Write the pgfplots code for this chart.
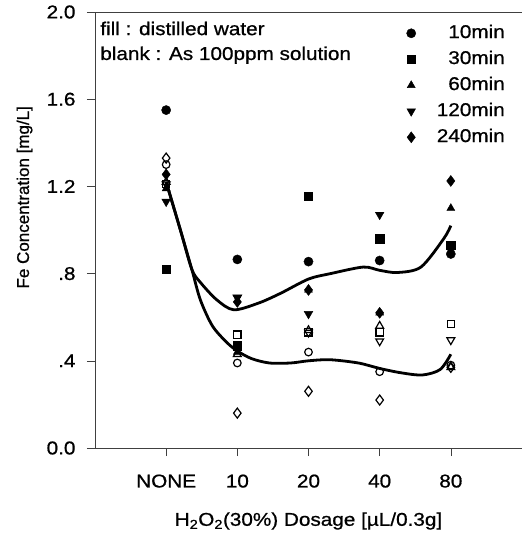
\documentclass[border=0pt]{standalone}
\usepackage{fontspec}
\setmainfont{Liberation Sans}[FakeStretch=1.12, FakeBold=0.8]
\newfontfamily\plainsans{Liberation Sans}[FakeBold=0.8]
\usepackage{pgfplots}
\pgfplotsset{compat=1.18}
\usepackage{pgfplotstable}

% fitted trend lines (x: dosage category index)
\pgfplotstableread{
x y
0.00 1.22
0.20 1.00
0.36 0.82
0.48 0.76
0.71 0.68
0.95 0.634
1.30 0.665
1.61 0.71
2.00 0.775
2.31 0.80
2.77 0.83
3.00 0.815
3.25 0.805
3.58 0.83
3.90 0.96
4.00 1.02
}\fitfill
\pgfplotstableread{
x y
0.00 1.22
0.20 1.00
0.36 0.82
0.48 0.68
0.65 0.56
0.85 0.485
1.00 0.445
1.20 0.41
1.45 0.39
1.75 0.39
2.00 0.40
2.30 0.405
2.70 0.39
3.00 0.365
3.30 0.345
3.60 0.335
3.85 0.36
4.00 0.43
}\fitblank

\newcommand{\txt}{\fontsize{18.5}{22}\selectfont}

\begin{document}
\begin{tikzpicture}
\begin{axis}[
  scale only axis, width=427pt, height=436pt,
  xmin=-1, xmax=5, ymin=0, ymax=2,
  axis lines=left,
  axis line style={-, black!75, line width=0.6pt},
  xtick={0,1,2,3,4}, xticklabels={NONE,10,20,40,80},
  ytick={0,0.4,0.8,1.2,1.6,2.0}, yticklabels={0.0,.4,.8,1.2,1.6,2.0},
  /pgf/number format/assume math mode=true,
  tick align=outside, major tick length=8pt,
  tick style={black!75, line width=0.6pt},
  tick label style={font=\txt},
  xticklabel style={yshift=-15pt},
  yticklabel style={xshift=-8pt},
  xlabel={H\textsubscript{2}O\textsubscript{2}(30\%) Dosage [µL/0.3g]},
  xlabel style={font=\txt, at={(axis description cs:0.5,0)}, anchor=center, yshift=-73pt},
  ylabel={Fe Concentration [mg/L]},
  ylabel style={font=\plainsans\fontsize{17}{20}\selectfont, at={(axis description cs:-0.165,0.575)}, anchor=center},
  clip=false,
  legend style={at={(rel axis cs:0.9625,0.974)}, anchor=north east, draw=none, fill=none,
    inner sep=0pt, font=\txt, row sep=6.5pt,
    nodes={inner sep=1pt, text height=13.5pt, text depth=4pt},
    /tikz/every odd column/.append style={column sep=20pt}},
  legend cell align=right,
]
\coordinate (o) at (rel axis cs:0,0);
\draw[black!75, line width=0.6pt] (rel axis cs:0,1) -- (rel axis cs:1,1);

% trend lines
\addplot[black, line width=2.8pt, smooth, forget plot] table {\fitfill};
\addplot[black, line width=2.8pt, smooth, forget plot] table {\fitblank};

% blank : As 100ppm solution (open marks)
\addplot[only marks, mark=o, mark size=3.8pt, mark options={line width=1.2pt, fill=none}, forget plot]
  coordinates {(0,1.30) (1,0.39) (2,0.44) (3,0.35) (4,0.38)};
\addplot[only marks, mark=square, mark size=3.6pt, mark options={line width=1.2pt, fill=none}, forget plot]
  coordinates {(0,1.21) (1,0.52) (2,0.53) (3,0.53) (4,0.57)};
\addplot[only marks, mark=triangle, mark size=4.5pt, mark options={line width=1.2pt, fill=none}, forget plot]
  coordinates {(0,1.22) (1,0.43) (2,0.54) (3,0.56) (4,0.37)};
\addplot[only marks, mark=triangle, mark size=4.5pt, mark options={line width=1.2pt, fill=none, rotate=180}, forget plot]
  coordinates {(0,1.21) (1,0.69) (2,0.53) (3,0.49) (4,0.495)};
\addplot[only marks, mark=diamond, mark size=5pt, mark options={line width=1.2pt, fill=none}, forget plot]
  coordinates {(0,1.33) (1,0.16) (2,0.26) (3,0.22) (4,0.37)};

% fill : distilled water (filled marks)
\addplot[only marks, mark=*, mark size=4.6pt, mark options={black}]
  coordinates {(0,1.55) (1,0.865) (2,0.855) (3,0.86) (4,0.89)};
\addlegendentry{10min}
\addplot[only marks, mark=square*, mark size=4.2pt, mark options={black}]
  coordinates {(0,0.82) (1,0.47) (2,1.155) (3,0.96) (4,0.93)};
\addlegendentry{30min}
\addplot[only marks, mark=triangle*, mark size=4.6pt, mark options={black}]
  coordinates {(0,1.19) (1,0.44) (2,0.725) (3,0.62) (4,1.10)};
\addlegendentry{60min}
\addplot[only marks, mark=triangle*, mark size=5pt, mark options={black, rotate=180}]
  coordinates {(0,1.13) (1,0.69) (2,0.615) (3,1.07) (4,0.91)};
\addlegendentry{120min}
\addplot[only marks, mark=diamond*, mark size=5.5pt, mark options={black}]
  coordinates {(0,1.255) (1,0.67) (2,0.725) (3,0.62) (4,1.225)};
\addlegendentry{240min}

\node[anchor=base west, font=\txt, inner sep=0pt] at (rel axis cs:0.012,0.947) {fill : distilled water};
\node[anchor=base west, font=\txt, inner sep=0pt] at (rel axis cs:0.012,0.890) {blank : As 100ppm solution};
\end{axis}
\pgfresetboundingbox
\path (o) ++(-95pt,-93pt) rectangle ++(524pt,541pt);
\end{tikzpicture}
\end{document}
